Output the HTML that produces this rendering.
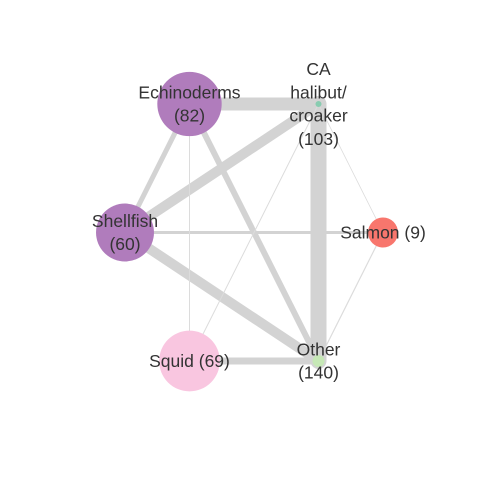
<!DOCTYPE html>
<html><head><meta charset="utf-8"><style>
body{margin:0;background:#fff}
svg text{font-family:"Liberation Sans",sans-serif;font-size:17.5px;fill:#333;text-anchor:middle}
</style></head><body>
<svg id="chart" width="480" height="480"></svg>
<script>
const nodeNames = ["Echinoderms","CA halibut/croaker","Shellfish","Salmon","Squid","Other"];
const nodeLabels = [["Echinoderms","(82)"],["CA","halibut/","croaker","(103)"],["Shellfish","(60)"],["Salmon (9)"],["Squid (69)"],["Other","(140)"]];
const nodeSizes = [82, 3, 60, 15, 69, 6];
const nodeColors = ["#b07cbc","#88ccb0","#b07cbc","#f8766d","#f9c6e0","#c6e8b6"];
const nodeX = [0.25, 0.75, 0, 1, 0.25, 0.75];
const nodeY = [1, 1, 0.5, 0.5, 0, 0];
const edgeFrom = [0,1,0,2,0,2,2,0,4,4,1,3];
const edgeTo   = [1,5,2,1,5,5,3,4,1,5,3,5];
const edgeWeights = [13,16,5,10,6,10,3,1,1,7,0.8,1.2];

const svg = document.getElementById('chart');
const NS = 'http://www.w3.org/2000/svg';
const sx = v => 125 + v * 258;
const sy = v => 361 - v * 257;
const rad = s => s < 10 ? s : (s < 20 ? 15 : 10 + Math.sqrt(s) * 2.45);

edgeFrom.forEach((f, i) => {
  const t = edgeTo[i];
  const l = document.createElementNS(NS, 'line');
  l.setAttribute('x1', sx(nodeX[f])); l.setAttribute('y1', sy(nodeY[f]));
  l.setAttribute('x2', sx(nodeX[t])); l.setAttribute('y2', sy(nodeY[t]));
  l.setAttribute('stroke', edgeWeights[i] < 2 ? '#dcdcdc' : '#d3d3d3');
  l.setAttribute('stroke-width', edgeWeights[i]);
  l.setAttribute('stroke-linecap', 'round');
  
  
  svg.appendChild(l);
});
nodeNames.forEach((n, i) => {
  const c = document.createElementNS(NS, 'circle');
  c.setAttribute('cx', sx(nodeX[i])); c.setAttribute('cy', sy(nodeY[i]));
  c.setAttribute('r', rad(nodeSizes[i]));
  c.setAttribute('fill', nodeColors[i]);
  
  
  svg.appendChild(c);
});
nodeNames.forEach((n, i) => {
  const lines = nodeLabels[i];
  const t = document.createElementNS(NS, 'text');
  
  
  const lh = 23.3;
  const y0 = sy(nodeY[i]) - (lines.length - 1) * lh / 2 + 6;
  lines.forEach((s, k) => {
    const ts = document.createElementNS(NS, 'tspan');
    ts.setAttribute('x', sx(nodeX[i]));
    ts.setAttribute('y', y0 + k * lh);
    ts.textContent = s;
    t.appendChild(ts);
  });
  svg.appendChild(t);
});
</script>
</body></html>
